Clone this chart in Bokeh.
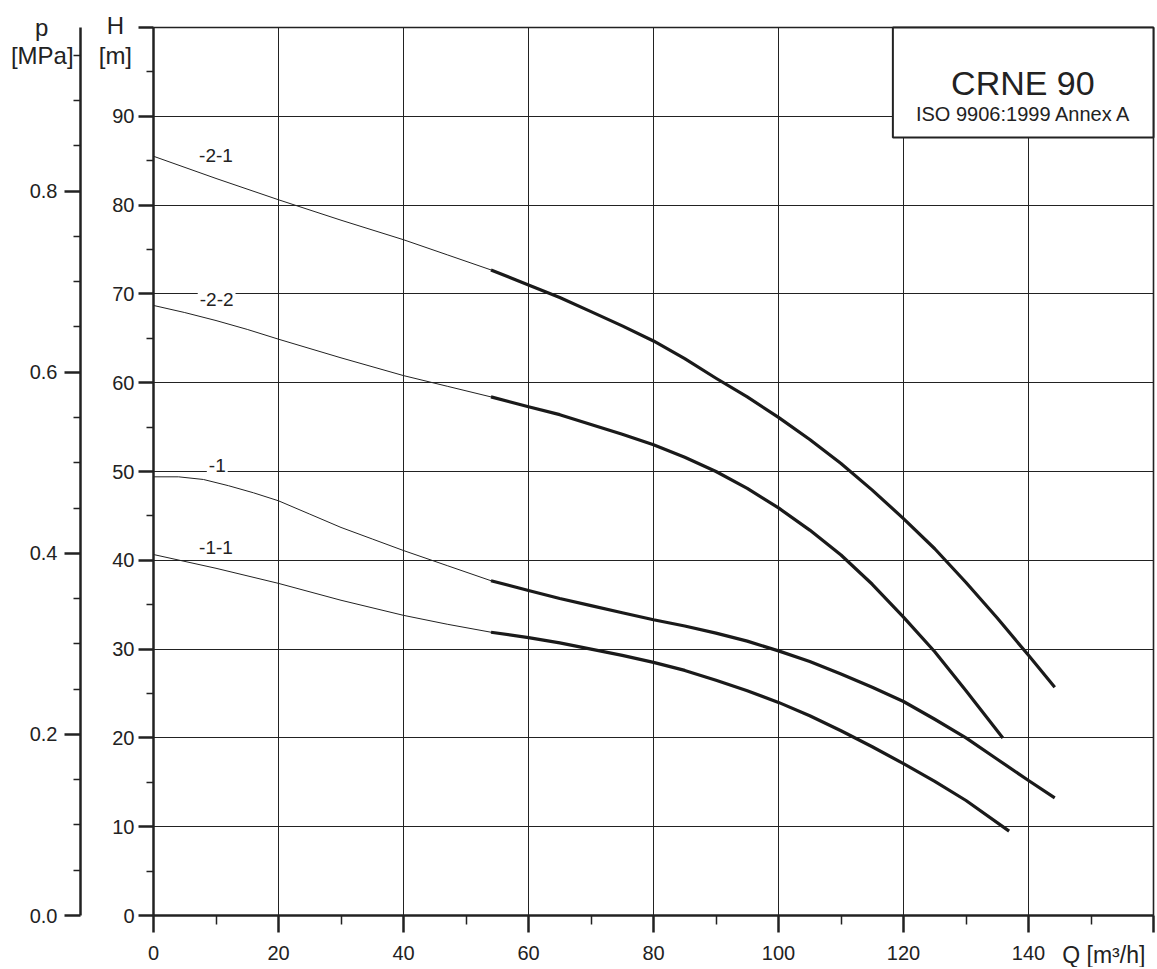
from bokeh.plotting import figure
from bokeh.models import (LinearAxis, Range1d, FixedTicker, Label, BoxAnnotation, Grid,
                          ColumnDataSource, PrintfTickFormatter)
from bokeh.embed import file_html
from bokeh.resources import INLINE

# ---------------- data ----------------
q_ticks = [0, 20, 40, 60, 80, 100, 120, 140, 160]
q_minor = [10, 30, 50, 70, 90, 110, 130, 150]
h_ticks = [0, 10, 20, 30, 40, 50, 60, 70, 80, 90, 100]
h_minor = [5, 15, 25, 35, 45, 55, 65, 75, 85, 95]
p_ticks = [0.0, 0.2, 0.4, 0.6, 0.8]
p_minor = [0.05, 0.1, 0.15, 0.25, 0.3, 0.35, 0.45, 0.5, 0.55, 0.65, 0.7, 0.75, 0.85, 0.9, 0.95]
M_PER_MPA = 101.97

curve_names = ["-2-1", "-2-2", "-1", "-1-1"]

q_2_1 = [0, 10, 20, 30, 40, 47, 54, 60, 65, 70, 75, 80, 85, 90, 95, 100, 105, 110, 115, 120, 125, 130, 135, 140, 144.2]
h_2_1 = [85.5, 83.0, 80.6, 78.3, 76.1, 74.4, 72.7, 71.0, 69.6, 68.0, 66.4, 64.7, 62.7, 60.5, 58.4, 56.1, 53.6, 50.9, 47.9, 44.7, 41.3, 37.5, 33.5, 29.3, 25.7]

q_2_2 = [0, 5, 10, 15, 20, 30, 40, 47, 54, 60, 65, 70, 75, 80, 85, 90, 95, 100, 105, 110, 115, 120, 125, 130, 135.9]
h_2_2 = [68.7, 67.9, 67.0, 66.0, 64.9, 62.8, 60.8, 59.6, 58.4, 57.3, 56.4, 55.3, 54.2, 53.0, 51.6, 50.0, 48.1, 45.9, 43.4, 40.6, 37.3, 33.6, 29.7, 25.3, 20.0]

q_1 = [0, 4, 8, 12, 16, 20, 25, 30, 35, 40, 47, 54, 60, 65, 70, 75, 80, 85, 90, 95, 100, 105, 110, 115, 120, 125, 130, 135, 140, 144.2]
h_1 = [49.4, 49.4, 49.1, 48.4, 47.6, 46.7, 45.2, 43.7, 42.4, 41.1, 39.4, 37.7, 36.6, 35.7, 34.9, 34.1, 33.3, 32.6, 31.8, 30.9, 29.8, 28.6, 27.2, 25.7, 24.1, 22.1, 20.0, 17.6, 15.2, 13.25]

q_1_1 = [0, 10, 20, 30, 40, 47, 54, 60, 65, 70, 75, 80, 85, 90, 95, 100, 105, 110, 115, 120, 125, 130, 136.9]
h_1_1 = [40.65, 39.1, 37.4, 35.5, 33.8, 32.8, 31.9, 31.3, 30.7, 30.0, 29.3, 28.5, 27.6, 26.5, 25.3, 24.0, 22.5, 20.8, 19.0, 17.1, 15.1, 12.95, 9.5]

series = [(q_2_1, h_2_1), (q_2_2, h_2_2), (q_1, h_1), (q_1_1, h_1_1)]
THICK_FROM = 54  # flow where the curve becomes bold

# ---------------- style / layout ----------------
FONT = "Liberation Sans"
INK = "#222222"
W, H = 1155, 967
PX_PER_Q = 6.25
PX_PER_M = 8.88
ORIGIN_X, ORIGIN_Y = 153, 915          # pixel position of Q=0, H=0
X0 = -ORIGIN_X / PX_PER_Q
X1 = X0 + W / PX_PER_Q
Y1 = ORIGIN_Y / PX_PER_M
Y0 = Y1 - H / PX_PER_M

p = figure(frame_width=W, frame_height=H, min_border=0,
           x_range=Range1d(X0, X1), y_range=Range1d(Y0, Y1),
           output_backend="svg", toolbar_location=None,
           background_fill_color="white", border_fill_color="white",
           outline_line_color=None)

# grids limited to the chart area
p.xgrid.bounds = (0, 160)
p.xgrid.cross_bounds = (0, 100)
p.ygrid.bounds = (0, 100)
p.ygrid.cross_bounds = (0, 160)
for g in (p.xgrid, p.ygrid):
    g.grid_line_color = INK
    g.grid_line_width = 1
# top and right border
p.add_layout(Grid(dimension=1, ticker=FixedTicker(ticks=[100]), bounds=(0, 100.5),
                  cross_bounds=(0, 160), grid_line_color=INK, grid_line_width=1.6))
p.add_layout(Grid(dimension=0, ticker=FixedTicker(ticks=[160]), bounds=(0, 160.5),
                  cross_bounds=(0, 100), grid_line_color=INK, grid_line_width=1.6))

# x axis
xa = p.xaxis[0]
xa.ticker = FixedTicker(ticks=q_ticks, minor_ticks=q_minor)
xa.major_label_overrides = {160: ""}
xa.fixed_location = 0
xa.bounds = (0, 160)

# H axis
ya = p.yaxis[0]
ya.ticker = FixedTicker(ticks=h_ticks, minor_ticks=h_minor)
ya.major_label_overrides = {100: ""}
ya.fixed_location = 0
ya.bounds = (0, 100)

# p axis
p.extra_y_ranges = {"p": Range1d(Y0 / M_PER_MPA, Y1 / M_PER_MPA)}
pa = LinearAxis(y_range_name="p",
                ticker=FixedTicker(ticks=p_ticks, minor_ticks=p_minor),
                formatter=PrintfTickFormatter(format="%.1f"),
                fixed_location=(80 - ORIGIN_X) / PX_PER_Q,
                bounds=(0, 100 / M_PER_MPA))
p.add_layout(pa, "left")

for ax, (mj, mn) in ((xa, (17, 9)), (ya, (15, 7)), (pa, (16, 7))):
    ax.axis_line_color = INK
    ax.axis_line_width = 2.5
    ax.major_tick_line_color = INK
    ax.major_tick_line_width = 2.5
    ax.minor_tick_line_color = INK
    ax.minor_tick_line_width = 1.5
    ax.major_tick_out = mj
    ax.major_tick_in = 0
    ax.minor_tick_out = mn
    ax.minor_tick_in = 0
    ax.major_label_text_font = FONT
    ax.major_label_text_font_size = "20px"
    ax.major_label_text_color = INK
xa.major_label_standoff = 13
ya.major_label_standoff = 4
pa.major_label_standoff = 7

# curves
for q, h in series:
    thin = ColumnDataSource(dict(q=[a for a in q if a <= THICK_FROM],
                                 h=[b for a, b in zip(q, h) if a <= THICK_FROM]))
    thick = ColumnDataSource(dict(q=[a for a in q if a >= THICK_FROM],
                                  h=[b for a, b in zip(q, h) if a >= THICK_FROM]))
    p.line("q", "h", source=thin, line_color=INK, line_width=1, line_join="round")
    p.line("q", "h", source=thick, line_color="#1a1a1a", line_width=3.2, line_join="round")

# info box
p.add_layout(BoxAnnotation(left=118.3, right=160, bottom=87.6, top=100,
                           fill_color="white", fill_alpha=1,
                           line_color=INK, line_width=2, line_alpha=1))
p.add_layout(Label(x=139.1, y=93.8, text="CRNE 90", text_align="center",
                   text_baseline="alphabetic", text_font=FONT,
                   text_font_size="34px", text_color=INK))
p.add_layout(Label(x=139.25, y=90.3, text="ISO 9906:1999 Annex A", text_align="center",
                   text_baseline="alphabetic", text_font=FONT,
                   text_font_size="20px", text_color=INK))

# curve labels
label_pos = [(10, 85.6), (10.1, 69.4), (10.2, 50.7), (10, 41.4)]
for name, (lx, ly) in zip(curve_names, label_pos):
    p.add_layout(Label(x=lx, y=ly, text=name, text_align="center",
                       text_baseline="middle", text_font=FONT, text_font_size="19px",
                       text_color=INK, background_fill_color="white",
                       background_fill_alpha=1, padding=2))

# axis titles
for txt, lx, ly, al, fs in [("p", -17.9, 100.0, "center", "24px"),
                            ("[MPa]", -17.8, 96.85, "center", "24px"),
                            ("H", -6.1, 100.2, "center", "24px"),
                            ("[m]", -6.1, 96.85, "center", "24px"),
                            ("Q [m\u00b3/h]", 145.4, -4.5, "left", "23px")]:
    p.add_layout(Label(x=lx, y=ly, text=txt, text_align=al, text_baseline="alphabetic",
                       text_font=FONT, text_font_size=fs, text_color=INK))

open("out.html", "w").write(file_html(p, INLINE))
